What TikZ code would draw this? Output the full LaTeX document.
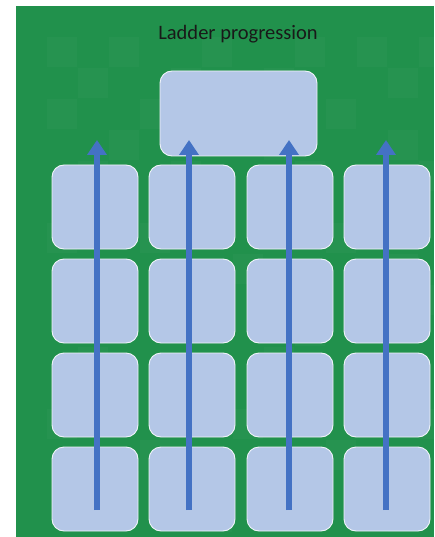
\documentclass[tikz,border=0pt]{standalone}
\usepackage{fontspec}
\setmainfont{Carlito}
\usetikzlibrary{arrows.meta}
\definecolor{bggreen}{RGB}{33,145,76}
\definecolor{boxfill}{RGB}{180,199,231}
\definecolor{arrowblue}{RGB}{68,114,196}
\tikzset{
  cell/.style={draw=white!80!boxfill, line width=0.9pt, fill=boxfill, rounded corners=12pt},
  ladderarrow/.style={draw=arrowblue, line width=6.5pt, -{Triangle[length=15pt,width=19pt]}},
}
\begin{document}
\begin{tikzpicture}[x=1pt,y=-1pt]
\useasboundingbox (0,0) rectangle (434,537);
\fill[white] (0,0) rectangle (434,537);
\fill[bggreen] (16,6) rectangle (434,537);
% faint background texture
\foreach \i/\j in {1/1,2/2,3/1,5/2,6/1,8/2,9/1,11/1,12/2,13/1,1/3,3/4,4/3,7/3,8/4,10/3,12/4,2/5,5/5,6/6,9/5,11/6,13/5,1/7,4/7,7/8,10/7,12/8,3/9,6/9,9/10,13/9,2/11,5/12,8/11,11/12,1/13,4/14,7/13,10/14,13/13,3/15,6/16,9/15,12/16}{
  \fill[white, opacity=0.025] (16+\i*31,6+\j*31) rectangle ++(30,30);
}
\node[font=\fontsize{20.5}{24}\selectfont, text=black!90, inner sep=0pt] (title) at (238,34) {Ladder progression};
\draw[cell] (160,71) rectangle (317,156);
\node (top) at (238.5,113.5) {};
\foreach \c/\x in {1/52,2/149,3/247,4/344}{
  \foreach \r/\y in {1/165,2/259,3/353,4/447}{
    \draw[cell] (\x,\y) rectangle ++(86,84);
    \node (b\r\c) at (\x+43,\y+42) {};
  }
}
\foreach \k/\x in {1/97,2/189,3/289,4/386}{
  \coordinate (s\k) at (\x,510);
  \coordinate (e\k) at (\x,140);
  \draw[ladderarrow] (s\k) -- (e\k);
}
\end{tikzpicture}
\end{document}
